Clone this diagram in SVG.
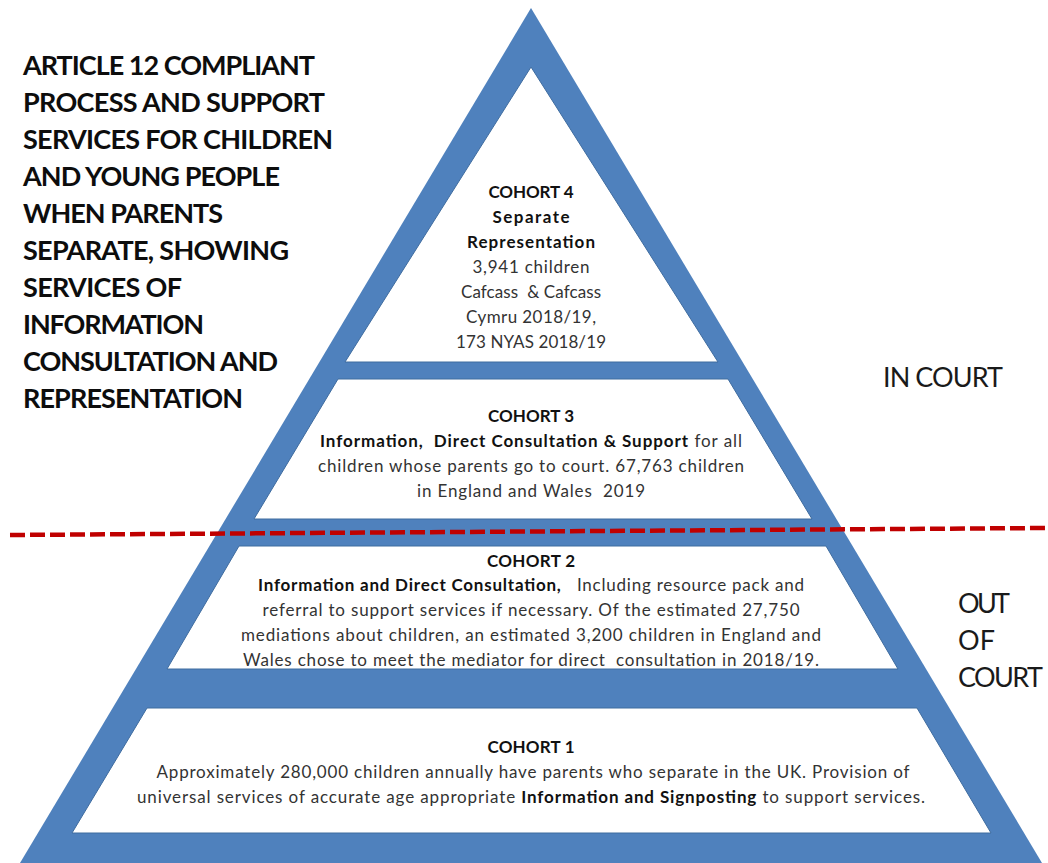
<svg xmlns="http://www.w3.org/2000/svg" width="1048" height="863" viewBox="0 0 1048 863">
<style>
.title{font-family:Lato,"Liberation Sans",sans-serif;font-weight:bold;font-size:27px;fill:#0d0d0d}
.side{font-family:Lato,"Liberation Sans",sans-serif;font-size:27px;fill:#1a1a1a}
.t{font-family:Lato,"Liberation Sans",sans-serif;font-size:17px;fill:#333;text-anchor:middle;white-space:pre}
.b{font-weight:bold;fill:#111}
.band{fill:#ffffff;stroke:#3f6c9f;stroke-width:1}
</style>
<rect x="0" y="0" width="1048" height="863" fill="#ffffff"/>
<g id="pyramid">
<polygon points="531,8 1042,863 20,863" fill="#4F81BD"/>
</g>
<g id="cohort4">
<polygon class="band" points="531,67 718,362 345,362"/>
<text class="t b" x="531" y="198" textLength="85">COHORT 4</text>
<text class="t b" x="531" y="223" textLength="77">Separate</text>
<text class="t b" x="531" y="248" textLength="128">Representation</text>
<text class="t" x="531" y="273" textLength="117">3,941 children</text>
<text class="t" x="531" y="298" textLength="140">Cafcass  &amp; Cafcass</text>
<text class="t" x="531" y="323" textLength="130">Cymru 2018/19,</text>
<text class="t" x="531" y="348" textLength="150">173 NYAS 2018/19</text>
</g>
<g id="cohort3">
<polygon class="band" points="338,379 728,379 812,519 254,519"/>
<text class="t b" x="531" y="422" textLength="86">COHORT 3</text>
<text class="t" x="531" y="447" textLength="422"><tspan class="b">Information,  Direct Consultation &amp; Support</tspan> for all</text>
<text class="t" x="531" y="472" textLength="426">children whose parents go to court. 67,763 children</text>
<text class="t" x="531" y="497" textLength="228">in England and Wales  2019</text>
</g>
<g id="cohort2">
<polygon class="band" points="239,546 826,546 898,669 167,669"/>
<text class="t b" x="531" y="567" textLength="88">COHORT 2</text>
<text class="t" x="531" y="591" textLength="546"><tspan class="b">Information and Direct Consultation,</tspan>   Including resource pack and</text>
<text class="t" x="531" y="616" textLength="537">referral to support services if necessary. Of the estimated 27,750</text>
<text class="t" x="531" y="641" textLength="580">mediations about children, an estimated 3,200 children in England and</text>
<text class="t" x="531" y="666" textLength="576">Wales chose to meet the mediator for direct  consultation in 2018/19.</text>
</g>
<g id="cohort1">
<polygon class="band" points="147,708 917,708 991,833 72,833"/>
<text class="t b" x="531" y="753" textLength="87">COHORT 1</text>
<text class="t" x="533" y="778" textLength="753">Approximately 280,000 children annually have parents who separate in the UK. Provision of</text>
<text class="t" x="531" y="803" textLength="788">universal services of accurate age appropriate <tspan class="b">Information and Signposting</tspan> to support services.</text>
</g>
<g id="connectors">
<line x1="10" y1="535" x2="1045" y2="528" stroke="#C00000" stroke-width="4.5" stroke-dasharray="15 5"/>
</g>
<g id="title">
<text class="title" x="23" y="75" textLength="292">ARTICLE 12 COMPLIANT</text>
<text class="title" x="23" y="112" textLength="302">PROCESS AND SUPPORT</text>
<text class="title" x="23" y="149" textLength="310">SERVICES FOR CHILDREN</text>
<text class="title" x="23" y="186" textLength="257">AND YOUNG PEOPLE</text>
<text class="title" x="23" y="223" textLength="200">WHEN PARENTS</text>
<text class="title" x="23" y="260" textLength="266">SEPARATE, SHOWING</text>
<text class="title" x="23" y="297" textLength="159">SERVICES OF</text>
<text class="title" x="23" y="334" textLength="181">INFORMATION</text>
<text class="title" x="23" y="371" textLength="255">CONSULTATION AND</text>
<text class="title" x="23" y="408" textLength="220">REPRESENTATION</text>
</g>
<g id="in-court">
<text class="side" x="883" y="387" textLength="120">IN COURT</text>
</g>
<g id="out-of-court">
<text class="side" x="958" y="613" textLength="52">OUT</text>
<text class="side" x="958" y="650" textLength="37">OF</text>
<text class="side" x="958" y="687" textLength="85">COURT</text>
</g>
</svg>
